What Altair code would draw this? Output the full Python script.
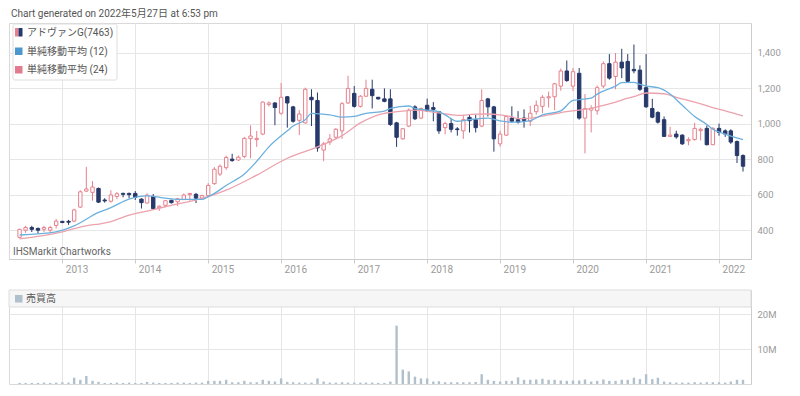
import altair as alt
import pandas as pd

FONT = "Roboto, 'Noto Sans CJK JP', 'Noto Sans', sans-serif"

# ---------------- text ----------------
title_text = "Chart generated on 2022年5月27日 at 6:53 pm"
legend_labels = ["アドヴァンG(7463)", "単純移動平均 (12)", "単純移動平均 (24)"]
volume_label = "売買高"
credit_label = "IHSMarkit Chartworks"

# ---------------- data (monthly, 2012-06 .. 2022-05) ----------------
months = pd.date_range("2012-06-01", periods=120, freq="MS").strftime("%Y-%m-%d").tolist()

opens = [
    360, 400, 415, 410, 405, 400, 427,
    450, 450, 451, 530, 620, 613, 635, 570, 563, 590, 607, 607,
    607, 575, 553, 590, 527, 540, 568, 560, 572, 600, 602, 581,
    595, 662, 716, 752, 800, 795, 815, 915, 910, 941, 1108, 1116,
    1058, 1151, 1094, 1018, 1004, 1148, 1130, 851, 896, 923, 959, 1116,
    1170, 1097, 1154, 1193, 1148, 1139, 1139, 1004, 914, 986, 1094, 1031,
    1103, 1090, 1067, 977, 1000, 970, 959, 1035, 1022, 986, 1139, 1094,
    886, 935, 1031, 1022, 1031, 1013, 1067, 1097, 1145, 1151, 1211, 1296,
    1211, 1283, 1031, 1076, 1072, 1211, 1337, 1265, 1346, 1350, 1305, 1301,
    1202, 1085, 1062, 1022, 928, 941, 935, 903, 910, 960, 973, 881,
    973, 959, 959, 899, 820,
]
highs = [
    408, 425, 425, 415, 425, 425, 463,
    452, 458, 521, 625, 757, 676, 640, 580, 625, 615, 612, 612,
    620, 580, 607, 604, 540, 570, 572, 582, 607, 610, 610, 600,
    665, 755, 770, 820, 830, 820, 925, 990, 959, 1125, 1125, 1120,
    1229, 1155, 1100, 1076, 1202, 1193, 1175, 896, 941, 975, 1121, 1269,
    1211, 1160, 1247, 1247, 1150, 1198, 1193, 1010, 975, 1085, 1103, 1090,
    1140, 1121, 1070, 1010, 1030, 980, 1049, 1050, 1050, 1193, 1145, 1100,
    960, 1045, 1097, 1070, 1080, 1100, 1130, 1160, 1180, 1229, 1310, 1355,
    1313, 1313, 1166, 1103, 1215, 1350, 1391, 1397, 1421, 1391, 1445, 1328,
    1391, 1139, 1070, 1040, 982, 960, 940, 923, 1004, 977, 990, 980,
    1000, 968, 968, 905, 827,
]
lows = [
    355, 385, 390, 380, 390, 385, 410,
    440, 430, 445, 525, 615, 566, 553, 555, 555, 575, 585, 580,
    570, 522, 550, 514, 508, 535, 550, 535, 570, 565, 553, 575,
    590, 655, 705, 740, 785, 790, 805, 805, 869, 935, 1095, 991,
    1050, 977, 1005, 935, 1000, 986, 842, 788, 880, 915, 914, 1110,
    1090, 1090, 1150, 1085, 1135, 1120, 986, 869, 910, 980, 1020, 1025,
    1065, 1013, 942, 940, 950, 932, 914, 950, 950, 980, 1040, 842,
    870, 930, 1004, 1000, 977, 986, 1050, 1058, 1090, 1076, 1185, 1235,
    1184, 1022, 832, 950, 1050, 1200, 1247, 1193, 1256, 1230, 1283, 1184,
    1090, 1030, 1000, 925, 925, 915, 880, 878, 905, 905, 878, 878,
    932, 925, 886, 778, 730,
]
closes = [
    405, 415, 405, 400, 415, 415, 451,
    443, 445, 514, 616, 632, 643, 558, 565, 598, 605, 602, 600,
    585, 555, 598, 521, 535, 566, 555, 577, 598, 607, 580, 595,
    652, 743, 760, 809, 792, 811, 917, 930, 917, 1121, 1116, 1090,
    1148, 1116, 1013, 1054, 1193, 1134, 863, 886, 914, 968, 1112, 1198,
    1097, 1154, 1198, 1157, 1139, 1125, 995, 923, 971, 1076, 1027, 1085,
    1072, 1080, 959, 1000, 968, 966, 1022, 1016, 977, 1130, 1094, 914,
    941, 1040, 1013, 1008, 1018, 1058, 1103, 1148, 1151, 1224, 1296, 1242,
    1292, 1031, 1085, 1085, 1202, 1337, 1256, 1346, 1313, 1238, 1297, 1193,
    1094, 1036, 1008, 928, 935, 925, 886, 910, 973, 968, 881, 973,
    950, 941, 896, 820, 760,
]
volume_millions = [
    0.3, 0.3, 0.3, 0.3, 0.4, 0.3, 0.4,
    0.5, 0.4, 1.8, 1.2, 2.3, 0.9, 0.6, 0.3, 0.3, 0.4, 0.3, 0.4,
    0.3, 0.3, 0.6, 0.4, 0.3, 0.3, 0.3, 0.4, 0.4, 0.3, 0.4, 0.4,
    0.9, 0.9, 0.9, 1.2, 0.5, 0.5, 0.9, 0.5, 0.5, 1.2, 0.9, 0.7,
    1.6, 0.6, 0.5, 0.4, 0.4, 0.4, 1.6, 0.7, 0.4, 0.4, 0.5, 0.4,
    0.4, 0.4, 0.4, 0.4, 0.3, 0.3, 0.7, 16.7, 4.1, 3.6, 2.1, 1.6,
    1.6, 0.7, 0.8, 0.5, 0.5, 0.5, 0.5, 0.5, 0.6, 2.8, 1.2, 0.9,
    0.7, 0.9, 0.9, 1.9, 1.2, 1.2, 1.3, 1.5, 1.2, 1.2, 1.0, 0.9,
    1.0, 1.0, 1.3, 0.7, 0.9, 1.3, 0.9, 0.9, 1.2, 1.2, 1.8, 1.4,
    2.8, 1.4, 1.8, 0.7, 0.5, 0.4, 0.4, 0.4, 0.5, 0.4, 0.5, 0.5,
    0.5, 0.4, 0.7, 1.2, 1.2,
]

sma12_months = [
    "2012-06-01", "2012-12-01", "2013-03-01", "2013-07-01", "2013-09-01", "2013-12-01",
    "2014-03-01", "2014-06-01", "2014-08-01", "2014-12-01", "2015-01-01", "2015-02-01",
    "2015-04-01", "2015-07-01", "2015-09-01", "2015-11-01", "2016-02-01", "2016-03-01",
    "2016-05-01", "2016-06-01", "2016-09-01", "2016-11-01", "2017-01-01", "2017-03-01",
    "2017-06-01", "2017-07-01", "2017-10-01", "2017-11-01", "2018-01-01", "2018-03-01",
    "2018-04-01", "2018-06-01", "2018-08-01", "2018-11-01", "2019-01-01", "2019-03-01",
    "2019-04-01", "2019-06-01", "2019-08-01", "2019-11-01", "2020-01-01", "2020-02-01",
    "2020-04-01", "2020-05-01", "2020-08-01", "2020-09-01", "2020-11-01", "2020-12-01",
    "2021-01-01", "2021-03-01", "2021-05-01", "2021-07-01", "2021-09-01", "2021-11-01",
    "2021-12-01", "2022-02-01", "2022-05-01",
]
sma12_values = [
    373, 391, 424, 500, 527, 575,
    593, 580, 573, 573, 589, 607,
    652, 716, 788, 869, 959, 986,
    1022, 1058, 1049, 1036, 1040, 1058,
    1070, 1085, 1099, 1085, 1076, 1067,
    1049, 1013, 1022, 1031, 1015, 1008,
    1008, 1016, 1049, 1072, 1130, 1135,
    1143, 1166, 1211, 1230, 1232, 1220,
    1211, 1202, 1166, 1103, 1040, 995,
    968, 941, 910,
]
sma24_months = [
    "2012-06-01", "2013-01-01", "2013-04-01", "2013-09-01", "2013-12-01", "2014-03-01",
    "2014-06-01", "2014-11-01", "2015-01-01", "2015-04-01", "2015-09-01", "2016-02-01",
    "2016-07-01", "2016-11-01", "2017-02-01", "2017-06-01", "2017-07-01", "2017-11-01",
    "2018-03-01", "2018-06-01", "2018-09-01", "2018-11-01", "2019-01-01", "2019-03-01",
    "2019-04-01", "2019-06-01", "2019-09-01", "2019-12-01", "2020-03-01", "2020-05-01",
    "2020-08-01", "2020-10-01", "2020-11-01", "2021-01-01", "2021-04-01", "2021-06-01",
    "2021-09-01", "2021-12-01", "2022-02-01", "2022-05-01",
]
sma24_values = [
    351, 391, 418, 449, 485, 508,
    532, 571, 589, 625, 710, 805,
    869, 932, 1004, 1058, 1062, 1076,
    1060, 1046, 1053, 1054, 1049, 1038,
    1028, 1031, 1049, 1067, 1080, 1094,
    1121, 1143, 1152, 1172, 1168, 1148,
    1121, 1090, 1072, 1043,
]

price_ticks = [400, 600, 800, 1000, 1200, 1400]
price_domain = [238, 1566]
volume_ticks = [10_000_000, 20_000_000]
volume_domain = [0, 26_900_000]
year_ticks = list(range(2013, 2023))

# ---------------- styling ----------------
UP = "#e6808c"
DOWN = "#27396a"
SMA12_C = "#6cb0de"
SMA24_C = "#eca2ad"
VOL_C = "#b0c0cc"
GRID = "#e6e6e6"
FRAME = "#d9d9d9"
LABEL = "#9a9a9a"
TEXT = "#555555"

W = 742
HP = 236
HV = 94
HDR = 17

df = pd.DataFrame({
    "date": months, "open": opens, "high": highs, "low": lows, "close": closes,
    "volume": [v * 1_000_000 for v in volume_millions],
})
df["dir"] = ["up" if c >= o else "down" for o, c in zip(opens, closes)]

sma12_df = pd.DataFrame({"date": sma12_months, "value": sma12_values})
sma24_df = pd.DataFrame({"date": sma24_months, "value": sma24_values})
one = pd.DataFrame({"k": [0]})

x_scale = alt.Scale(
    type="utc",
    domain=[alt.DateTime(year=2012, month=5, date=4, utc=True),
            alt.DateTime(year=2022, month=5, date=16, utc=True)],
)
year_values = [alt.DateTime(year=y, month=1, date=1, utc=True) for y in year_ticks]

x_axis_price = alt.Axis(
    values=year_values, format="%Y", title=None, labelAlign="left", labelOffset=3,
    labelPadding=1, labelFontSize=10, labelColor=LABEL, labelFont=FONT,
    tickSize=4, tickColor="#cccccc", domainColor="#cccccc", gridColor=GRID,
)
x_axis_vol = alt.Axis(values=year_values, labels=False, ticks=False, domain=False,
                      gridColor=GRID, title=None)

y_scale = alt.Scale(domain=price_domain, nice=False, zero=False)
y_axis = alt.Axis(orient="right", values=price_ticks, format=",.0f", title=None,
                  labelFontSize=9.5, labelColor=LABEL, labelFont=FONT, ticks=False,
                  labelPadding=6, domainColor="#cccccc", gridColor=GRID)

dir_scale_line = alt.Scale(domain=["up", "down"], range=[UP, DOWN])
dir_scale_fill = alt.Scale(domain=["up", "down"], range=["#ffffff", DOWN])

xp = alt.X("date:T", scale=x_scale, axis=x_axis_price)

wicks = alt.Chart(df).mark_rule(strokeWidth=1).encode(
    x=xp,
    y=alt.Y("low:Q", scale=y_scale, axis=y_axis),
    y2="high:Q",
    color=alt.Color("dir:N", scale=dir_scale_line, legend=None),
)
bodies = alt.Chart(df).mark_bar(size=3.4, strokeWidth=1).encode(
    x=xp,
    y=alt.Y("open:Q", scale=y_scale, axis=y_axis),
    y2="close:Q",
    fill=alt.Fill("dir:N", scale=dir_scale_fill, legend=None),
    stroke=alt.Stroke("dir:N", scale=dir_scale_line, legend=None),
)
line12 = alt.Chart(sma12_df).mark_line(color=SMA12_C, strokeWidth=1.3, interpolate="monotone").encode(
    x=xp, y=alt.Y("value:Q", scale=y_scale, axis=y_axis))
line24 = alt.Chart(sma24_df).mark_line(color=SMA24_C, strokeWidth=1.3, interpolate="monotone").encode(
    x=xp, y=alt.Y("value:Q", scale=y_scale, axis=y_axis))

# legend box (decoration)
leg_box = alt.Chart(one).mark_rect(fill="#ffffff", fillOpacity=0.92, stroke="#dddddd",
                                   strokeWidth=1, cornerRadius=2).encode(
    x=alt.value(4), x2=alt.value(108), y=alt.value(1), y2=alt.value(57))
leg_icon_up = alt.Chart(one).mark_rect(fill=UP).encode(
    x=alt.value(6), x2=alt.value(9.5), y=alt.value(5), y2=alt.value(13.5))
leg_icon_dn = alt.Chart(one).mark_rect(fill=DOWN).encode(
    x=alt.value(9.5), x2=alt.value(13.5), y=alt.value(5), y2=alt.value(13.5))
leg_icon_12 = alt.Chart(one).mark_rect(fill="#4d97cf").encode(
    x=alt.value(6), x2=alt.value(13.5), y=alt.value(24.5), y2=alt.value(32))
leg_icon_24 = alt.Chart(one).mark_rect(fill="#e07c8e").encode(
    x=alt.value(6), x2=alt.value(13.5), y=alt.value(43), y2=alt.value(50.5))
leg_texts = [
    alt.Chart(one).mark_text(align="left", baseline="middle", fontSize=10, font=FONT, color=TEXT).encode(
        x=alt.value(18), y=alt.value(yy), text=alt.value(lbl))
    for lbl, yy in zip(legend_labels, [9.5, 28.5, 47])
]
credit = alt.Chart(one).mark_text(align="left", baseline="middle", fontSize=10, font=FONT,
                                  color="#666666").encode(
    x=alt.value(4), y=alt.value(HP - 7), text=alt.value(credit_label))

price = alt.layer(
    wicks, bodies, line24, line12, credit, leg_box, leg_icon_up, leg_icon_dn,
    leg_icon_12, leg_icon_24, *leg_texts
).properties(width=W, height=HP)

# ---------------- volume panel ----------------
xv = alt.X("date:T", scale=x_scale, axis=x_axis_vol)
vol_bars = alt.Chart(df).mark_bar(size=2.4, color=VOL_C).encode(
    x=xv,
    y=alt.Y("volume:Q", scale=alt.Scale(domain=volume_domain, nice=False),
            axis=alt.Axis(orient="right", values=volume_ticks, format="~s", title=None,
                          labelFontSize=9.5, labelColor=LABEL, labelFont=FONT, ticks=False,
                          labelPadding=6, domainColor="#cccccc", gridColor=GRID)),
)
hdr = alt.Chart(one).mark_rect(fill="#f6f6f6", stroke="#dddddd", strokeWidth=1).encode(
    x=alt.value(0), x2=alt.value(W), y=alt.value(0), y2=alt.value(HDR))
hdr_icon = alt.Chart(one).mark_rect(fill=VOL_C).encode(
    x=alt.value(6), x2=alt.value(13.5), y=alt.value(5), y2=alt.value(12.5))
hdr_text = alt.Chart(one).mark_text(align="left", baseline="middle", fontSize=10, font=FONT,
                                    color=TEXT).encode(
    x=alt.value(17), y=alt.value(8.5), text=alt.value(volume_label))

volume = alt.layer(vol_bars, hdr, hdr_icon, hdr_text).properties(width=W, height=HV)

chart = alt.vconcat(price, volume, spacing=14).properties(
    padding=0,
    title=alt.TitleParams(text=title_text, anchor="start", fontSize=10, fontWeight="normal",
                          color=TEXT, font=FONT, offset=4, dx=3),
).configure(font=FONT).configure_view(stroke=FRAME)

chart.save("out.html", embed_options={"renderer": "svg", "actions": False})
